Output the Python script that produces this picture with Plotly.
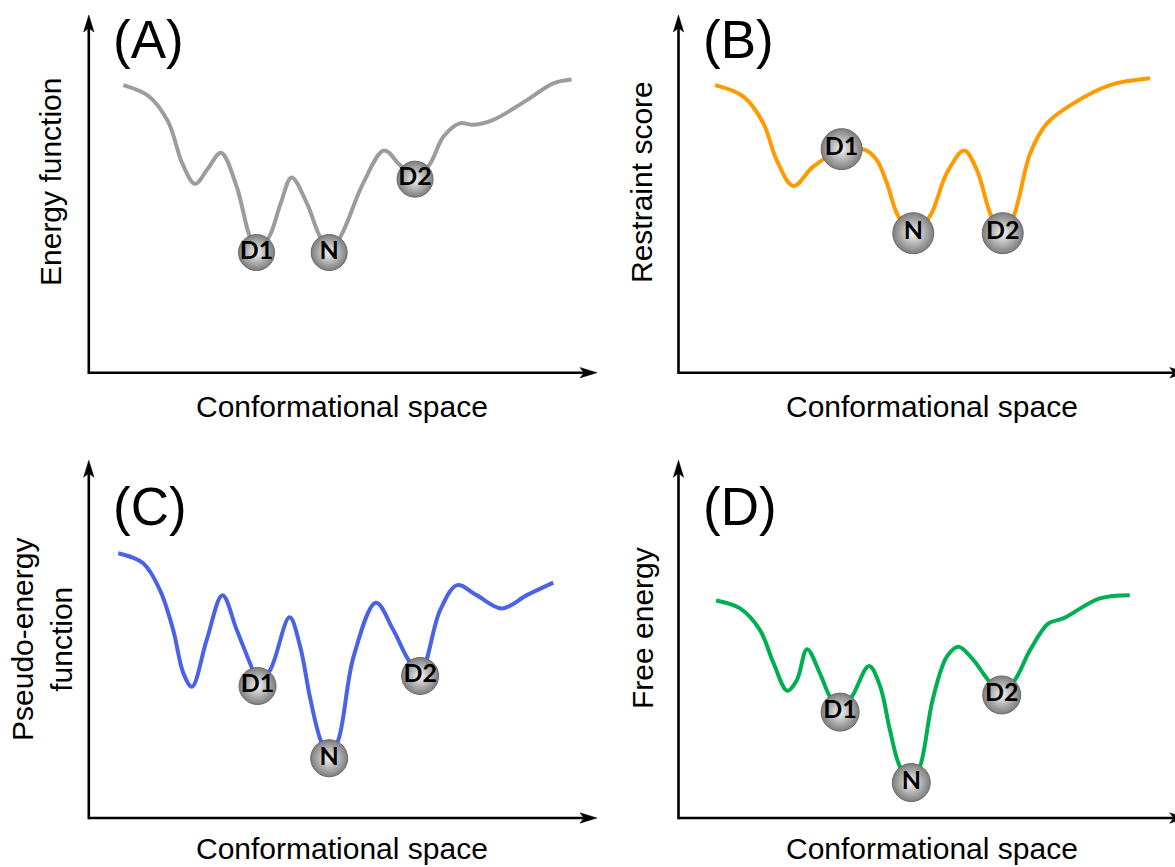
import plotly.graph_objects as go

W, H = 1175, 867

# ---------------------------------------------------------------------------
# Landscape profiles: x = conformational coordinate, y = score (0-100 units,
# measured from the axis origin to the arrow tips)
# ---------------------------------------------------------------------------
states = ["D1", "N", "D2"]

# (A) Energy function
a_x = [6.8, 11.8, 15.6, 18.4, 20.9, 23.4, 26.0, 29.1, 31.7, 33.3, 35.5, 37.8, 39.9, 42.9,
       45.5, 47.5, 49.7, 54.0, 58.1, 61.2, 64.2, 67.0, 69.8, 73.0, 75.7, 79.6, 86.2, 91.4, 95.0]
a_y = [80.4, 77.3, 70.2, 58.5, 52.8, 57.0, 61.5, 52.0, 38.0, 34.3, 38.0, 47.5, 54.6, 47.4,
       38.0, 34.3, 38.5, 53.0, 62.1, 58.1, 54.7, 58.1, 66.0, 69.7, 69.3, 70.7, 76.2, 80.9, 82.0]
a_state_x = [33.0, 47.3, 64.2]
a_state_y = [33.6, 33.6, 54.1]

# (B) Restraint score
b_x = [7.2, 12.8, 16.7, 19.3, 22.6, 26.5, 32.1, 36.7, 39.0, 41.0, 43.3, 46.2, 49.4, 52.8,
       56.2, 58.7, 61.6, 63.8, 65.9, 69.2, 72.5, 77.7, 84.9, 92.8]
b_y = [80.4, 77.2, 69.7, 59.5, 52.2, 57.6, 62.3, 62.3, 59.5, 53.0, 43.6, 39.3, 43.6, 55.8,
       62.1, 56.7, 43.6, 39.3, 43.6, 61.3, 69.7, 75.3, 80.4, 82.3]
b_state_x = [32.1, 46.2, 63.8]
b_state_y = [62.5, 39.0, 39.0]

# (C) Pseudo-energy function
c_x = [5.8, 10.7, 14.0, 16.6, 18.6, 20.3, 23.2, 26.3, 29.1, 32.1, 33.3, 35.7, 39.5, 41.6,
       43.5, 45.6, 47.3, 49.1, 52.1, 56.5, 59.9, 62.9, 65.2, 69.1, 72.5, 76.3, 81.3,
       86.2, 91.4]
c_y = [74.0, 71.2, 63.7, 52.6, 40.5, 36.7, 49.8, 62.3, 52.6, 41.9, 37.7, 41.4, 56.1, 47.9,
       33.9, 21.8, 17.3, 21.8, 45.1, 60.2, 52.6, 44.2, 40.5, 58.0, 65.1, 62.3, 58.6,
       62.3, 65.8]
c_state_x = [33.2, 47.3, 65.2]
c_state_y = [36.9, 16.7, 39.7]

# (D) Free energy
d_x = [7.4, 12.1, 16.0, 18.7, 21.4, 23.3, 25.3, 27.8, 29.8, 31.8, 34.1, 37.5, 39.7, 41.6,
       43.6, 45.8, 47.5, 50.0, 52.8, 55.1, 58.0, 61.2, 63.6, 66.2, 69.2, 72.8, 75.7, 82.9, 88.8]
d_y = [60.8, 58.6, 52.6, 43.3, 35.6, 38.6, 47.2, 40.5, 33.9, 30.2, 33.9, 42.5, 36.7, 24.6,
       14.3, 10.6, 14.3, 33.0, 45.1, 47.9, 44.2, 38.1, 35.0, 38.6, 47.0, 54.4, 55.8, 61.4, 62.3]
d_state_x = [31.8, 45.8, 63.6]
d_state_y = [29.6, 9.9, 34.4]

panel_letters = ["(A)", "(B)", "(C)", "(D)"]
y_titles = ["Energy function", "Restraint score", "Pseudo-energy<br>function", "Free energy"]
x_title = "Conformational space"

# ---------------------------------------------------------------------------
# Panel geometry (pixels): axis origin and arrow lengths
# ---------------------------------------------------------------------------
panels = [
    dict(key="", ox=88.8, oy=372.7, color="#9c9c9c", ball=36,
         x=a_x, y=a_y, sx=a_state_x, sy=a_state_y),
    dict(key="2", ox=678.5, oy=372.7, color="#ff9a00", ball=41,
         x=b_x, y=b_y, sx=b_state_x, sy=b_state_y),
    dict(key="3", ox=88.8, oy=818.0, color="#4a62e6", ball=37,
         x=c_x, y=c_y, sx=c_state_x, sy=c_state_y),
    dict(key="4", ox=678.5, oy=818.0, color="#00b050", ball=38,
         x=d_x, y=d_y, sx=d_state_x, sy=d_state_y),
]
XLEN, YLEN = 508.2, 357.7
title_font = dict(family="Liberation Sans, Arial, sans-serif", size=30, color="black")


def px(xp):
    return xp / W


def py(yp):
    return 1 - yp / H


fig = go.Figure()
shapes, annotations = [], []

for i, p in enumerate(panels):
    k = p["key"]
    ox, oy = p["ox"], p["oy"]
    x_end = min(ox + XLEN, W)
    xa = dict(domain=[px(ox), px(x_end)], range=[0, (x_end - ox) / XLEN * 100],
              visible=False, showgrid=False, zeroline=False, fixedrange=True)
    ya = dict(domain=[py(oy), py(oy - YLEN)], range=[0, 100],
              visible=False, showgrid=False, zeroline=False, fixedrange=True)
    if k:
        xa["anchor"] = "y" + k
        ya["anchor"] = "x" + k
    fig.update_layout(**{"xaxis" + k: xa, "yaxis" + k: ya})

    xref, yref = "x" + k, "y" + k
    fig.add_trace(go.Scatter(
        x=p["x"], y=p["y"], mode="lines", xaxis=xref, yaxis=yref,
        line=dict(color=p["color"], width=4, shape="spline", smoothing=1.0),
        hoverinfo="skip", showlegend=False))
    fig.add_trace(go.Scatter(
        x=p["sx"], y=p["sy"], mode="markers+text", text=states,
        textposition="middle center", xaxis=xref, yaxis=yref, cliponaxis=False,
        marker=dict(size=p["ball"], color="#7d7d7d",
                    gradient=dict(type="radial", color="#f4f4f4"),
                    line=dict(width=1, color="#6a6a6a")),
        textfont=dict(family="Lato, sans-serif", size=25, color="black", weight="bold"),
        hoverinfo="skip", showlegend=False))

    # axes drawn as arrows
    tip_x, tip_y = ox + XLEN, oy - YLEN
    lw = 2.6
    shapes.append(dict(type="line", xref="paper", yref="paper",
                       x0=px(ox), y0=py(oy), x1=px(tip_x - 12), y1=py(oy),
                       line=dict(color="black", width=lw)))
    shapes.append(dict(type="line", xref="paper", yref="paper",
                       x0=px(ox), y0=py(oy + lw / 2), x1=px(ox), y1=py(tip_y + 12),
                       line=dict(color="black", width=lw)))
    hl, hw, notch = 17, 5.2, 4
    shapes.append(dict(
        type="path", xref="paper", yref="paper", fillcolor="black",
        line=dict(color="black", width=0.5),
        path=(f"M{px(tip_x)},{py(oy)} L{px(tip_x - hl)},{py(oy - hw)} "
              f"L{px(tip_x - hl + notch)},{py(oy)} L{px(tip_x - hl)},{py(oy + hw)} Z")))
    shapes.append(dict(
        type="path", xref="paper", yref="paper", fillcolor="black",
        line=dict(color="black", width=0.5),
        path=(f"M{px(ox)},{py(tip_y)} L{px(ox - hw)},{py(tip_y + hl)} "
              f"L{px(ox)},{py(tip_y + hl - notch)} L{px(ox + hw)},{py(tip_y + hl)} Z")))

    # panel letter
    letter_y = 40 if i < 2 else 507
    annotations.append(dict(
        text=panel_letters[i], xref="paper", yref="paper",
        x=px(ox + 22), y=py(letter_y), xanchor="left", yanchor="middle",
        showarrow=False, font=dict(family="Liberation Sans, Arial, sans-serif",
                                   size=53, color="black")))
    # axis titles
    annotations.append(dict(
        text=x_title, xref="paper", yref="paper",
        x=px(ox + 253), y=py(oy + 34 if i < 2 else 848), xanchor="center",
        yanchor="middle", showarrow=False, font=title_font))
    ytx = [51, 642, 42, 642][i]
    yty = [182, 182, 640, 628][i]
    annotations.append(dict(
        text=y_titles[i], xref="paper", yref="paper", textangle=-90,
        x=px(ytx), y=py(yty), xanchor="center", yanchor="middle",
        showarrow=False, font=title_font))

fig.update_layout(
    width=W, height=H, margin=dict(l=0, r=0, t=0, b=0),
    paper_bgcolor="white", plot_bgcolor="rgba(0,0,0,0)",
    shapes=shapes, annotations=annotations, showlegend=False,
)

fig.write_html("out.html", config={"displayModeBar": False})
